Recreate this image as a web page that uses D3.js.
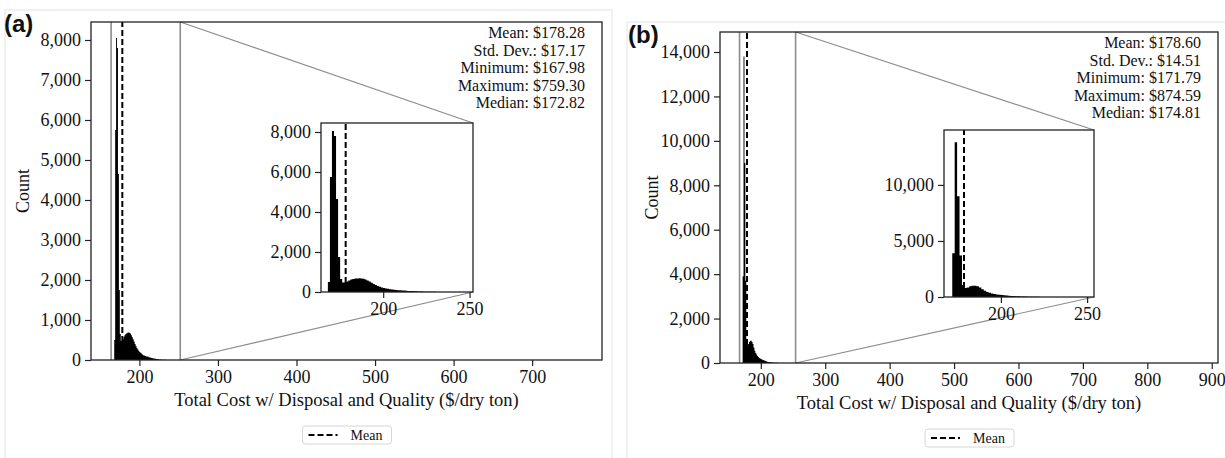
<!DOCTYPE html>
<html>
<head>
<meta charset="utf-8">
<script src="https://cdn.jsdelivr.net/npm/d3@7"></script>
<style>
  body { margin: 0; background: #fff; }
  svg text { font-family: "Liberation Serif", "Times New Roman", serif; fill: #111; }
</style>
</head>
<body>
<script>
// histogram counts (500 bins over [min, max], only the visible bins listed)
const countsA = [500, 5750, 8050, 7800, 4650, 1750, 650, 480, 470, 520, 580, 620, 650, 670, 680,
  690, 680, 660, 620, 570, 520, 460, 400, 350, 300, 260, 230, 200, 180, 160, 140, 120, 110,
  100, 90, 85, 80, 70, 60, 55, 50, 45, 40, 35, 30, 25, 22, 18, 15, 12, 10,
  8, 7, 6, 5, 4, 3, 3, 2, 2, 1];
const countsB = [3900, 13800, 9000, 3700, 1080, 800, 850, 950, 1000, 1000, 950, 850, 700, 550,
  450, 380, 320, 270, 230, 200, 180, 160, 140, 120, 100, 85, 70, 60, 50, 40, 35, 30, 25, 20,
  15, 12, 10, 8, 6, 5, 4, 3, 2, 2, 1];

const statsA = { mean: 178.28, sd: 17.17, min: 167.98, max: 759.30, median: 172.82 };
const statsB = { mean: 178.60, sd: 14.51, min: 171.79, max: 874.59, median: 174.81 };
const nBins = 500;

const xTicksA = [200, 300, 400, 500, 600, 700];
const yTicksA = [0, 1000, 2000, 3000, 4000, 5000, 6000, 7000, 8000];
const insetYTicksA = [0, 2000, 4000, 6000, 8000];
const xTicksB = [200, 300, 400, 500, 600, 700, 800, 900];
const yTicksB = [0, 2000, 4000, 6000, 8000, 10000, 12000, 14000];
const insetYTicksB = [0, 5000, 10000];
const insetXTicks = [200, 250];

const xLabel = "Total Cost w/ Disposal and Quality ($/dry ton)";

window.onload = function() {
  let svg = d3.select("body").append("svg")
    .attr("width", 1225).attr("height", 458);

  drawPanel(svg, {
    label: "(a)", labelPos: [4, 32], frame: [5, 10, 607, 460],
    box: { l: 91, t: 22, r: 602, b: 360 },
    xDomain: [138.4, 788.9], yMax: 8450,
    xTicks: xTicksA, yTicks: yTicksA,
    counts: countsA, stats: statsA,
    inset: { l: 321, t: 123, r: 473, b: 292, xDomain: [164, 252], yTicks: insetYTicksA }
  });
  drawPanel(svg, {
    label: "(b)", labelPos: [628, 43], frame: [627, 22, 610, 450],
    box: { l: 720, t: 32, r: 1218, b: 363 },
    xDomain: [136.65, 909.73], yMax: 14900,
    xTicks: xTicksB, yTicks: yTicksB,
    counts: countsB, stats: statsB,
    inset: { l: 944, t: 130, r: 1094, b: 297, xDomain: [167, 254], yTicks: insetYTicksB }
  });
}

function makeBins(counts, stats) {
  let w = (stats.max - stats.min) / nBins;
  return counts.map(function(c, i) {
    return { x0: stats.min + i * w, x1: stats.min + (i + 1) * w, n: c };
  });
}

function drawHist(g, bins, x, y, mean, yTop) {
  // bars drawn as one stepped shape so that neighbouring bars have no seams
  let pts = bins.map(function(d) { return { x: d.x0, n: d.n }; });
  let last = bins[bins.length - 1];
  pts.push({ x: last.x1, n: 0 });
  let area = d3.area()
    .curve(d3.curveStepAfter)
    .x(function(d) { return x(d.x); })
    .y0(y(0))
    .y1(function(d) { return y(d.n); });
  g.append("path")
    .datum(pts)
    .attr("d", area)
    .attr("fill", "#000");

  g.append("line")
    .attr("x1", x(mean)).attr("x2", x(mean))
    .attr("y1", y(0)).attr("y2", yTop)
    .attr("stroke", "#000")
    .attr("stroke-width", 2)
    .attr("stroke-dasharray", "6,3");
}

function styleAxis(a) {
  a.select(".domain").remove();
  a.selectAll(".tick line").attr("stroke", "#222").attr("stroke-width", 1.2);
  a.selectAll(".tick text")
    .style("font-family", "'Liberation Serif', serif")
    .style("font-size", "18px")
    .attr("fill", "#111");
}

function drawPanel(svg, cfg) {
  const b = cfg.box;
  const bins = makeBins(cfg.counts, cfg.stats);

  // light frame round each panel
  svg.append("rect")
    .attr("x", cfg.frame[0]).attr("y", cfg.frame[1])
    .attr("width", cfg.frame[2]).attr("height", cfg.frame[3])
    .attr("fill", "none").attr("stroke", "#e4e4e4");

  svg.append("text")
    .attr("x", cfg.labelPos[0]).attr("y", cfg.labelPos[1])
    .style("font-family", "'Liberation Sans', Arial, sans-serif")
    .style("font-weight", "bold")
    .style("font-size", "24px")
    .text(cfg.label);

  // main scales
  let x = d3.scaleLinear().domain(cfg.xDomain).range([b.l, b.r]);
  let y = d3.scaleLinear().domain([0, cfg.yMax]).range([b.b, b.t]);

  let main = svg.append("g");
  drawHist(main, bins, x, y, cfg.stats.mean, b.t);

  // zoom rectangle and connectors
  const ins = cfg.inset;
  let gray = "#8c8c8c";
  [ins.xDomain[0], ins.xDomain[1]].forEach(function(v) {
    svg.append("line")
      .attr("x1", x(v)).attr("x2", x(v)).attr("y1", b.t).attr("y2", b.b)
      .attr("stroke", gray).attr("stroke-width", 1.6);
  });
  svg.append("line")
    .attr("x1", x(ins.xDomain[1])).attr("y1", b.t)
    .attr("x2", ins.r).attr("y2", ins.t)
    .attr("stroke", gray).attr("stroke-width", 1.2);
  svg.append("line")
    .attr("x1", x(ins.xDomain[1])).attr("y1", b.b)
    .attr("x2", ins.r).attr("y2", ins.b)
    .attr("stroke", gray).attr("stroke-width", 1.2);

  // main axes
  let xa = svg.append("g")
    .attr("transform", "translate(0," + b.b + ")")
    .call(d3.axisBottom(x).tickValues(cfg.xTicks).tickSize(6).tickPadding(4).tickFormat(d3.format("d")));
  styleAxis(xa);
  let ya = svg.append("g")
    .attr("transform", "translate(" + b.l + ",0)")
    .call(d3.axisLeft(y).tickValues(cfg.yTicks).tickSize(6).tickPadding(4).tickFormat(d3.format(",")));
  styleAxis(ya);

  svg.append("rect")
    .attr("x", b.l).attr("y", b.t)
    .attr("width", b.r - b.l).attr("height", b.b - b.t)
    .attr("fill", "none").attr("stroke", "#222").attr("stroke-width", 1.3);

  // inset
  let xi = d3.scaleLinear().domain(ins.xDomain).range([ins.l, ins.r]);
  let yi = d3.scaleLinear().domain([0, cfg.yMax]).range([ins.b, ins.t]);
  svg.append("rect")
    .attr("x", ins.l).attr("y", ins.t)
    .attr("width", ins.r - ins.l).attr("height", ins.b - ins.t)
    .attr("fill", "#fff");
  let ig = svg.append("g");
  drawHist(ig, bins.filter(function(d) { return d.x1 <= ins.xDomain[1]; }), xi, yi, cfg.stats.mean, ins.t);

  let xia = svg.append("g")
    .attr("transform", "translate(0," + ins.b + ")")
    .call(d3.axisBottom(xi).tickValues(insetXTicks).tickSize(6).tickPadding(4).tickFormat(d3.format("d")));
  styleAxis(xia);
  let yia = svg.append("g")
    .attr("transform", "translate(" + ins.l + ",0)")
    .call(d3.axisLeft(yi).tickValues(ins.yTicks).tickSize(6).tickPadding(4).tickFormat(d3.format(",")));
  styleAxis(yia);
  svg.append("rect")
    .attr("x", ins.l).attr("y", ins.t)
    .attr("width", ins.r - ins.l).attr("height", ins.b - ins.t)
    .attr("fill", "none").attr("stroke", "#222").attr("stroke-width", 1.3);

  // stats box text
  let s = cfg.stats;
  let money = function(v) { return "$" + v.toFixed(2); };
  let lines = ["Mean: " + money(s.mean), "Std. Dev.: " + money(s.sd), "Minimum: " + money(s.min),
               "Maximum: " + money(s.max), "Median: " + money(s.median)];
  svg.selectAll(null)
    .data(lines)
    .enter()
    .append("text")
    .attr("x", b.r - 17)
    .attr("y", function(d, i) { return b.t + 16 + i * 17.5; })
    .attr("text-anchor", "end")
    .style("font-size", "16px")
    .text(function(d) { return d; });

  // axis labels
  let cx = (b.l + b.r) / 2;
  svg.append("text")
    .attr("x", cx).attr("y", b.b + 46)
    .attr("text-anchor", "middle")
    .style("font-size", "18.5px")
    .text(xLabel);
  svg.append("text")
    .attr("transform", "translate(" + (b.l - 62) + "," + ((b.t + b.b) / 2) + ") rotate(-90)")
    .attr("text-anchor", "middle")
    .style("font-size", "18px")
    .text("Count");

  // legend
  let lg = svg.append("g").attr("transform", "translate(" + (cx - 44) + "," + (b.b + 66) + ")");
  lg.append("rect")
    .attr("width", 89).attr("height", 18).attr("rx", 3)
    .attr("fill", "#fff").attr("stroke", "#d6d6d6");
  lg.append("line")
    .attr("x1", 6).attr("x2", 35).attr("y1", 9).attr("y2", 9)
    .attr("stroke", "#000").attr("stroke-width", 2).attr("stroke-dasharray", "6,3");
  lg.append("text")
    .attr("x", 48).attr("y", 13.5)
    .style("font-size", "14px")
    .text("Mean");
}
</script>
</body>
</html>
